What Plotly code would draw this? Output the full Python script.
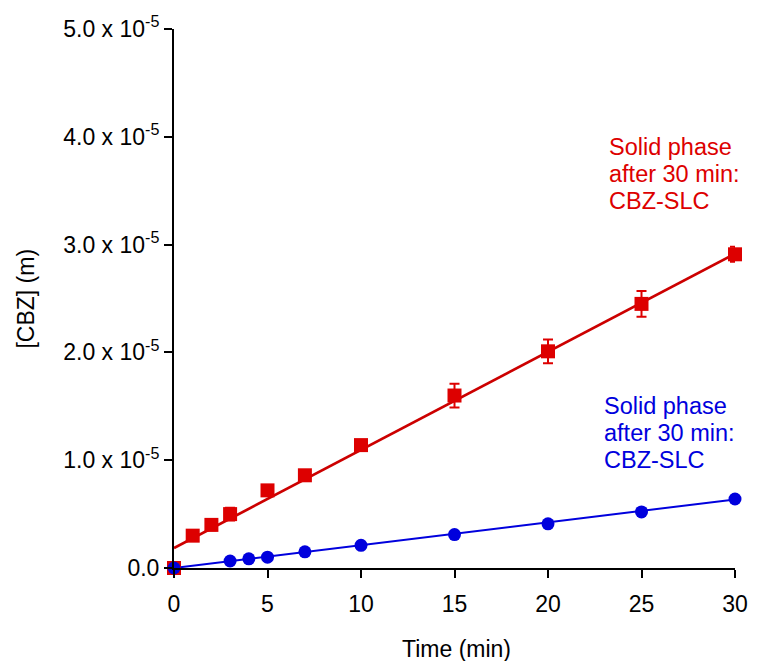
import numpy as np
import plotly.graph_objects as go

# Time points (min)
t_red = [0, 1, 2, 3, 5, 7, 10, 15, 20, 25, 30]
c_red = [0.0, 0.30e-5, 0.40e-5, 0.50e-5, 0.72e-5, 0.86e-5, 1.14e-5, 1.60e-5, 2.01e-5, 2.45e-5, 2.91e-5]
err_red = [0.0, 0.04e-5, 0.05e-5, 0.06e-5, 0.05e-5, 0.05e-5, 0.04e-5, 0.11e-5, 0.11e-5, 0.12e-5, 0.07e-5]

t_blue = [0, 3, 4, 5, 7, 10, 15, 20, 25, 30]
c_blue = [0.0, 0.065e-5, 0.085e-5, 0.10e-5, 0.15e-5, 0.21e-5, 0.31e-5, 0.41e-5, 0.52e-5, 0.64e-5]

# Linear fits: [CBZ] = slope * t + intercept
red_fit = {"slope": 0.0910e-5, "intercept": 0.185e-5}
blue_fit = {"slope": 0.0212e-5, "intercept": 0.0}

y_tickvals = [0, 1e-5, 2e-5, 3e-5, 4e-5, 5e-5]
y_ticktext = ["0.0", "1.0 x 10<sup>-5</sup>", "2.0 x 10<sup>-5</sup>",
              "3.0 x 10<sup>-5</sup>", "4.0 x 10<sup>-5</sup>", "5.0 x 10<sup>-5</sup>"]
x_tickvals = [0, 5, 10, 15, 20, 25, 30]

label_lines = ["Solid phase", "after 30 min:", "CBZ-SLC"]

RED = "#dd0000"
RED_LINE = "#cc0000"
BLUE = "#0000dd"
FONT = "Liberation Sans, Arial, sans-serif"

# plot area in pixels
L, R, T, B = 174, 741, 27, 568
W, H = R - L, B - T


def px_x(x):
    return (x - L) / W


def px_y(y):
    return (B - y) / H


fit_x = np.array([0, 30])

fig = go.Figure()

fig.add_trace(go.Scatter(
    x=fit_x, y=red_fit["slope"] * fit_x + red_fit["intercept"],
    mode="lines", line=dict(color=RED_LINE, width=2.7), hoverinfo="skip",
))
fig.add_trace(go.Scatter(
    x=fit_x, y=blue_fit["slope"] * fit_x + blue_fit["intercept"],
    mode="lines", line=dict(color=BLUE, width=2), hoverinfo="skip",
))
fig.add_trace(go.Scatter(
    x=t_red, y=c_red, mode="markers",
    marker=dict(symbol="square", size=14, color=RED),
    error_y=dict(type="data", array=err_red, color=RED, thickness=2, width=5),
    cliponaxis=False,
))
fig.add_trace(go.Scatter(
    x=t_blue, y=c_blue, mode="markers",
    marker=dict(symbol="circle", size=13, color=BLUE),
    cliponaxis=False,
))

# text blocks, one annotation per line for tight line spacing
LINE_GAP = 27.5
for x0, y0, color in [(612, 145, RED), (607, 405, BLUE)]:
    for i, line in enumerate(label_lines):
        fig.add_annotation(x=px_x(x0), y=px_y(y0 + i * LINE_GAP),
                           xref="paper", yref="paper", text=line,
                           showarrow=False, xanchor="left", yanchor="middle",
                           font=dict(family=FONT, size=23.5, color=color))

# axis titles
fig.add_annotation(x=px_x(24), y=px_y(298), xref="paper", yref="paper",
                   text="[CBZ] (m)", showarrow=False, textangle=-90,
                   xanchor="center", yanchor="middle",
                   font=dict(family=FONT, size=23, color="black"))
fig.add_annotation(x=px_x(460), y=px_y(649), xref="paper", yref="paper",
                   text="Time (min)", showarrow=False,
                   xanchor="center", yanchor="middle",
                   font=dict(family=FONT, size=23, color="black"))

fig.update_layout(
    width=760, height=661,
    margin=dict(l=L, r=760 - R, t=T, b=661 - B, pad=0),
    paper_bgcolor="white", plot_bgcolor="white",
    showlegend=False,
    font=dict(family=FONT, size=23, color="black"),
    xaxis=dict(
        range=[0, 30], tickvals=x_tickvals, ticks="outside", ticklen=8,
        tickwidth=2, tickcolor="black", showline=True, linecolor="black",
        linewidth=2, showgrid=False, zeroline=False,
        tickfont=dict(size=23), ticklabelstandoff=6,
    ),
    yaxis=dict(
        range=[0, 5e-5], tickvals=y_tickvals, ticktext=y_ticktext,
        ticks="outside", ticklen=8, tickwidth=2, tickcolor="black",
        showline=True, linecolor="black", linewidth=2, showgrid=False,
        zeroline=False,
        tickfont=dict(size=23),
    ),
)

fig.write_html("out.html")
